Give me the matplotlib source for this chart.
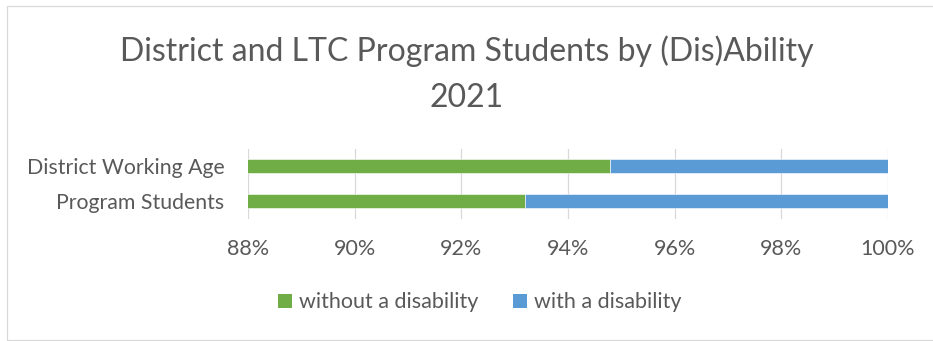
import matplotlib.pyplot as plt
from matplotlib.lines import Line2D
from matplotlib.patches import Patch

# data
categories = ['District Working Age', 'Program Students']
without_dis = [94.78, 93.2]
with_dis = [5.22, 6.8]
tick_vals = [88, 90, 92, 94, 96, 98, 100]
tick_labels = ['88%', '90%', '92%', '94%', '96%', '98%', '100%']

green = '#70AD47'
blue = '#5B9BD5'
txt = '#595959'
grid_c = '#D9D9D9'

plt.rcParams['font.family'] = ['Lato', 'DejaVu Sans']

W, H = 933, 341
fig = plt.figure(figsize=(W / 100, H / 100), dpi=100)

# chart border (left, top, bottom; right side runs off the picture)
bx = [933 / W, 7.5 / W, 7.5 / W, 933 / W]
by = [1 - 5.5 / H, 1 - 5.5 / H, 1 - 340 / H, 1 - 340 / H]
fig.lines.append(Line2D(bx, by, transform=fig.transFigure, color=grid_c, linewidth=0.9))

ax = fig.add_axes([248 / W, 1 - 218.5 / H, 640 / W, 69.5 / H])
y = list(range(len(categories)))
ax.barh(y, without_dis, height=0.4, color=green, edgecolor='white', linewidth=0.4,
        label='without a disability', zorder=3)
ax.barh(y, with_dis, left=without_dis, height=0.4, color=blue, edgecolor='white', linewidth=0.4,
        label='with a disability', zorder=3)

ax.set_xlim(88, 100)
ax.set_ylim(1.5, -0.5)
ax.set_xticks(tick_vals)
ax.set_xticklabels(tick_labels)
ax.set_yticks(y)
ax.set_yticklabels(categories)
ax.grid(axis='x', color=grid_c, linewidth=0.9, zorder=0)
for s in ax.spines.values():
    s.set_visible(False)
ax.tick_params(axis='both', length=0, labelcolor=txt)
ax.tick_params(axis='x', pad=15, labelsize=15.5)
ax.tick_params(axis='y', pad=17, labelsize=15.3)

fig.text(0.5, 1 - 61 / H, 'District and LTC Program Students by (Dis)Ability',
         ha='center', va='baseline', fontsize=23, color=txt)
fig.text(0.5, 1 - 107 / H, '2021', ha='center', va='baseline', fontsize=23, color=txt)

handles = [Patch(facecolor=green), Patch(facecolor=blue)]
fig.legend(handles, ['without a disability', 'with a disability'], loc='center',
           bbox_to_anchor=(480 / W, 1 - 302.5 / H), ncol=2, frameon=False,
           fontsize=15.5, labelcolor=txt, handlelength=0.65, handleheight=0.65,
           handletextpad=0.33, columnspacing=1.6, borderpad=0, borderaxespad=0)

plt.savefig('out.png', dpi=100)
